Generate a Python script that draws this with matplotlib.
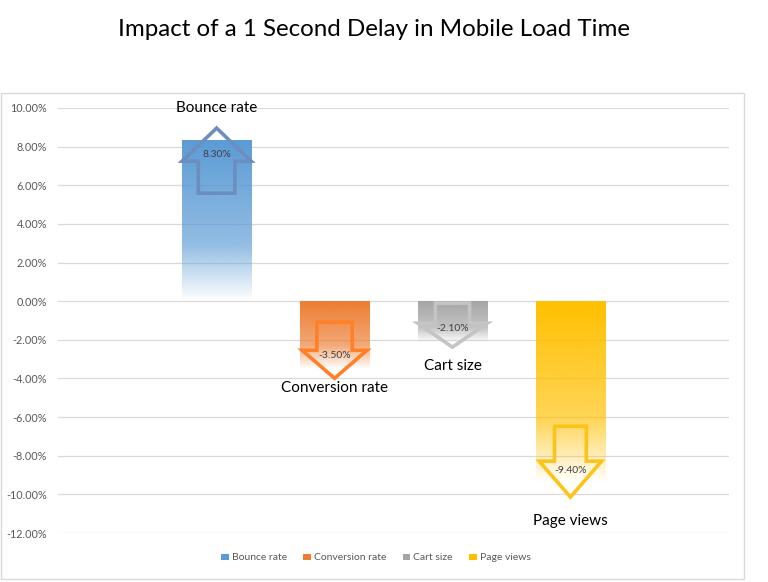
import numpy as np
import matplotlib
matplotlib.use("Agg")
import matplotlib.pyplot as plt
from matplotlib.patches import Polygon, Rectangle, Patch
from matplotlib.colors import to_rgb

# ---- data ----
title = "Impact of a 1 Second Delay in Mobile Load Time"
series = ["Bounce rate", "Conversion rate", "Cart size", "Page views"]
values = [8.30, -3.50, -2.10, -9.40]          # percent
colors = ["#5B9BD5", "#ED7D31", "#A5A5A5", "#FFC000"]
arrow_colors = ["#6C8EBF", "#FF8028", "#C4C4C4", "#FCC419"]
yticks = [10, 8, 6, 4, 2, 0, -2, -4, -6, -8, -10, -12]

# ---- layout (decoration) ----
name_label_y = [10.0, -4.5, -3.35, -11.4]
value_label_y = [7.6, -2.8, -1.4, -8.75]
# arrows: tip, tail, head base, head width, shaft width (data units)
arrows = [
    (8.96, 5.59, 7.25, 0.585, 0.31),
    (-3.99, -1.09, -2.54, 0.55, 0.30),
    (-2.38, -0.10, -1.14, 0.59, 0.29),
    (-10.14, -6.47, -8.28, 0.53, 0.27),
]

plt.rcParams['font.family'] = ['Lato', 'DejaVu Sans']

W, H = 768, 582
fig = plt.figure(figsize=(W / 100, H / 100), dpi=100)
fig.patch.set_facecolor("white")

# outer chart border
fig.patches.append(Rectangle((0.5 / W, 1 - 579 / H), 743 / W, (579 - 93) / H,
                             transform=fig.transFigure, fill=False,
                             edgecolor="#D9D9D9", linewidth=1.0, zorder=0))

ax = fig.add_axes([58 / W, 1 - 533 / H, (729 - 58) / W, (533 - 108) / H])
ax.set_yticks(yticks)
ax.set_yticklabels([f"{t:.2f}%" for t in yticks], color="#595959", fontsize=7.8)
ax.tick_params(axis="y", length=0, pad=8)
ax.set_xticks([])
for s in ax.spines.values():
    s.set_visible(False)
ax.yaxis.grid(True, color="#D9D9D9", linewidth=0.9)
ax.set_axisbelow(True)

x = np.arange(len(values))
bars = ax.bar(x, values, width=0.59, color="none", edgecolor="none", zorder=2)

def gradient_alpha(n=256):
    t = np.linspace(0, 1, n)  # 0 at top, 1 at bottom
    a_mid = 1 - 0.45 * 0.75
    a = np.where(t < 0.65, 1 - (1 - a_mid) * t / 0.65,
                 a_mid * (1 - (t - 0.65) / 0.35))
    return np.clip(a, 0, 1)

alpha = gradient_alpha()
for b, c in zip(bars, colors):
    rgb = to_rgb(c)
    img = np.zeros((len(alpha), 1, 4))
    img[:, 0, :3] = rgb
    img[:, 0, 3] = alpha
    x0, w = b.get_x(), b.get_width()
    y0, h = b.get_y(), b.get_height()
    lo, hi = min(y0, y0 + h), max(y0, y0 + h)
    ax.imshow(img, extent=[x0, x0 + w, lo, hi], aspect="auto",
              origin="upper", zorder=2, interpolation="bilinear")

ax.set_xlim(-1.345, 4.345)
ax.set_ylim(-12, 10)

# hollow block arrows
for xi, (tip, tail, hb, hw, sw), ac in zip(x, arrows, arrow_colors):
    pts = [
        (xi, tip),
        (xi + hw / 2, hb),
        (xi + sw / 2, hb),
        (xi + sw / 2, tail),
        (xi - sw / 2, tail),
        (xi - sw / 2, hb),
        (xi - hw / 2, hb),
    ]
    ax.add_patch(Polygon(pts, closed=True, fill=False, edgecolor=ac,
                         linewidth=2.6, joinstyle="miter", zorder=3))

for xi, v, ny, vy, name in zip(x, values, name_label_y, value_label_y, series):
    ax.text(xi, vy, f"{v:.2f}%", ha="center", va="center", fontsize=7.5,
            color="#404040", zorder=4)
    ax.text(xi, ny, name, ha="center", va="center", fontsize=11,
            color="black", zorder=4)

fig.text(374 / W, 1 - 30 / H, title, ha="center", va="center",
         fontsize=17.4, color="black")

handles = [Patch(facecolor=c, edgecolor="none") for c in colors]
fig.legend(handles, series, loc="center", bbox_to_anchor=(376 / W, 1 - 558 / H),
           ncol=4, frameon=False, fontsize=7.5, labelcolor="#595959",
           handlelength=0.7, handleheight=0.5, handletextpad=0.3,
           columnspacing=1.6)

fig.savefig("out.png", dpi=100, facecolor="white")
